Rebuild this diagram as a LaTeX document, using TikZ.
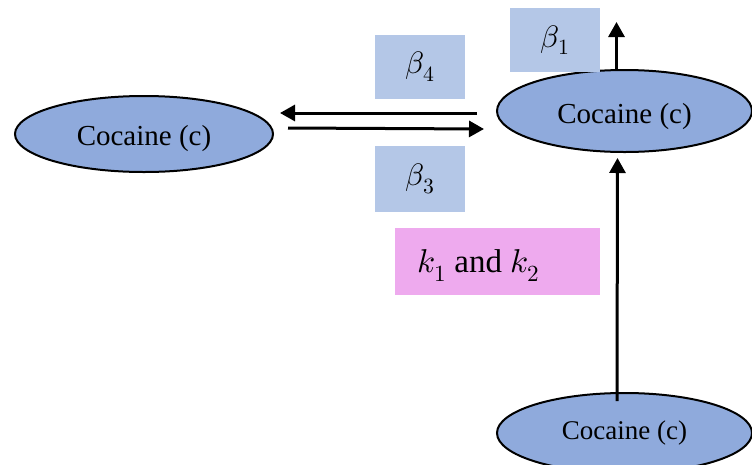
\documentclass[tikz,border=0pt]{standalone}
\usepackage{unicode-math}
\setmainfont{Liberation Serif}
\setmathfont{Latin Modern Math}
\usetikzlibrary{shapes.geometric,arrows.meta}
\definecolor{ellfill}{HTML}{8FAADC}
\definecolor{boxfill}{HTML}{B4C7E7}
\definecolor{kfill}{HTML}{EEAAEE}
\tikzset{
  ell/.style={ellipse, draw=black, line width=2pt, fill=ellfill, inner sep=0pt},
  lbl/.style={fill=boxfill, inner sep=0pt, minimum width=90pt, minimum height=64pt},
  arr/.style={line width=3pt, -{Triangle[length=15pt,width=16pt]}},
  mtxt/.style={font=\fontsize{31}{34}\selectfont}
}
\begin{document}
\begin{tikzpicture}[x=1pt,y=-1pt]
\useasboundingbox (0,0) rectangle (752,464);
\node[ell, minimum width=258pt, minimum height=76pt, text height=25pt, text depth=3pt, font=\fontsize{29}{32}\selectfont] (L) at (144,134) {Cocaine (c)};
\node[ell, minimum width=255pt, minimum height=82pt, text height=26pt, text depth=2pt, font=\fontsize{29}{32}\selectfont] (R) at (624.5,111) {Cocaine (c)};
\node[ell, minimum width=255pt, minimum height=80pt, font=\fontsize{27}{30}\selectfont] (B) at (624.5,433) {Cocaine (c)};
\node[lbl, mtxt] (b4) at (420,66.5) {$\beta_4$};
\node[lbl, mtxt, minimum height=66pt] (b3) at (420,179) {$\beta_3$};
\node[lbl, mtxt] (b1) at (555,40) {$\beta_1$};
\node[fill=kfill, inner sep=0pt, minimum width=205pt, minimum height=67pt] (k) at (497.5,261.5) {};
\node[anchor=west, inner sep=0pt, font=\fontsize{33}{36}\selectfont] (ktxt) at ([xshift=22pt,yshift=-4pt]k.west) {$k_1$ and $k_2$};
\draw[arr] ([xshift=-19pt,yshift=-2pt]R.west) -- ([xshift=6pt,yshift=21pt]L.east);
\draw[arr] ([xshift=14pt,yshift=6pt]L.east) -- ([xshift=-12pt,yshift=-18pt]R.west);
\draw[arr] ([xshift=-8pt]R.north) -- ([xshift=-8pt,yshift=47pt]R.north);
\draw[arr] ([xshift=-7.5pt,yshift=-9pt]B.north) -- ([xshift=-7pt,yshift=-5pt]R.south);
\end{tikzpicture}
\end{document}
